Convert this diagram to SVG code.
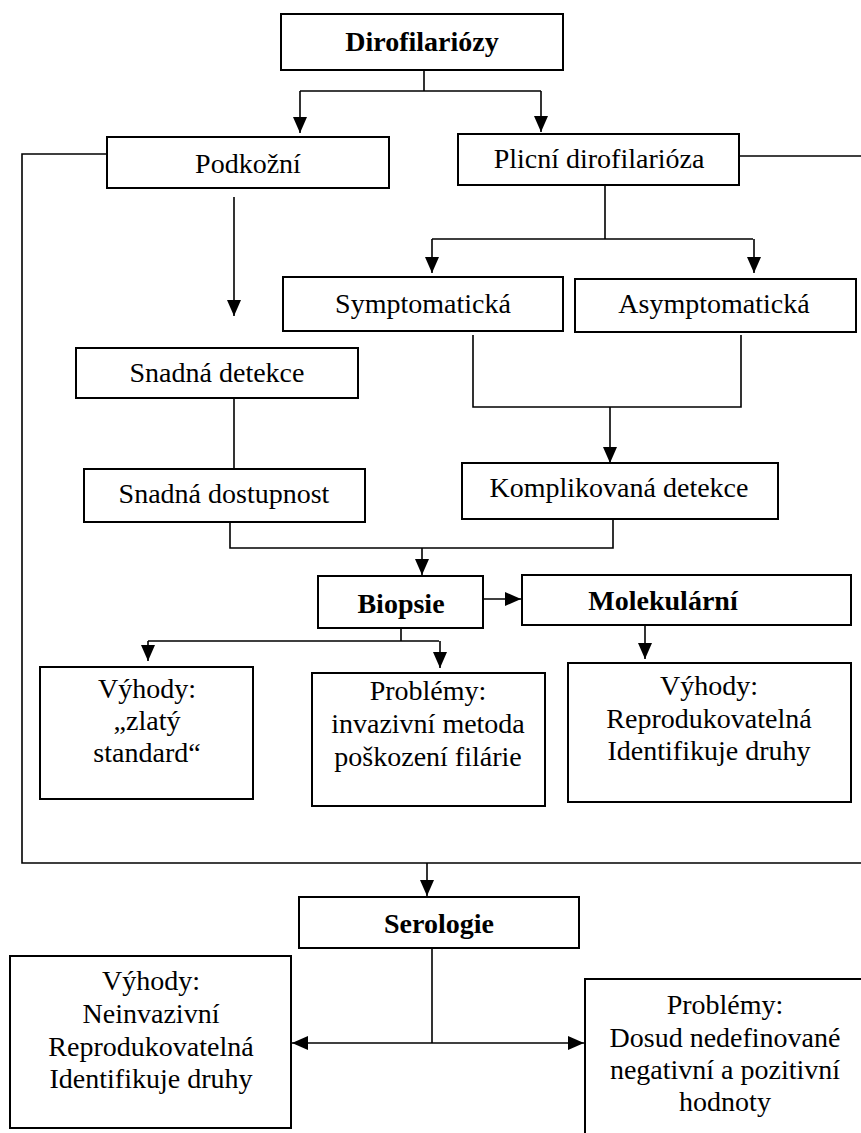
<svg xmlns="http://www.w3.org/2000/svg" width="861" height="1133" viewBox="0 0 861 1133">
<defs>
<style>
.box{fill:#fff;stroke:#000;stroke-width:2}
.ln{fill:none;stroke:#000;stroke-width:1.6}
.t{font-family:"Liberation Serif","Times New Roman",serif;font-size:28px;fill:#000;text-anchor:middle}
.b{font-weight:bold}
</style>
<marker id="ah" markerUnits="userSpaceOnUse" markerWidth="16" markerHeight="14" refX="16" refY="7" orient="auto-start-reverse">
<path d="M0,0 L16,7 L0,14 z" fill="#000"/>
</marker>
</defs>
<rect width="861" height="1133" fill="#fff"/>
<g id="connectors">
<path class="ln" d="M424,70 V91 M300,91 H541"/>
<path class="ln" d="M300,91 V133" marker-end="url(#ah)"/>
<path class="ln" d="M541,91 V132" marker-end="url(#ah)"/>
<path class="ln" d="M234,197 V316" marker-end="url(#ah)"/>
<path class="ln" d="M605,185 V239 M432,239 H753"/>
<path class="ln" d="M432,239 V273" marker-end="url(#ah)"/>
<path class="ln" d="M754,239 V273" marker-end="url(#ah)"/>
<path class="ln" d="M473,335 V407 H741 V335"/>
<path class="ln" d="M610,407 V463" marker-end="url(#ah)"/>
<path class="ln" d="M234,398 V469"/>
<path class="ln" d="M230,522 V548 H613 V519"/>
<path class="ln" d="M422,548 V575" marker-end="url(#ah)"/>
<path class="ln" d="M483,599 H521" marker-end="url(#ah)"/>
<path class="ln" d="M401,628 V641 M148,641 H439"/>
<path class="ln" d="M148,641 V661" marker-end="url(#ah)"/>
<path class="ln" d="M440,641 V668" marker-end="url(#ah)"/>
<path class="ln" d="M645,625 V659" marker-end="url(#ah)"/>
<path class="ln" d="M107,154 H22 V863 H861"/>
<path class="ln" d="M739,156 H861"/>
<path class="ln" d="M427,863 V896" marker-end="url(#ah)"/>
<path class="ln" d="M432,948 V1043"/>
<path class="ln" d="M292,1043 H584" marker-start="url(#ah)" marker-end="url(#ah)"/>
</g>
<g id="dirofilariozy"><rect class="box" x="281" y="14" width="282" height="56"/><text class="t b" x="422" y="51">Dirofilariózy</text></g>
<g id="podkozni"><rect class="box" x="107" y="137" width="282" height="51"/><text class="t" x="248" y="173">Podkožní</text></g>
<g id="plicni"><rect class="box" x="458" y="134" width="281" height="51"/><text class="t" x="599" y="168">Plicní dirofilarióza</text></g>
<g id="symptomaticka"><rect class="box" x="283" y="277" width="280" height="54"/><text class="t" x="423" y="313">Symptomatická</text></g>
<g id="asymptomaticka"><rect class="box" x="575" y="279" width="281" height="53"/><text class="t" x="714" y="313">Asymptomatická</text></g>
<g id="snadna-detekce"><rect class="box" x="76" y="348" width="282" height="50"/><text class="t" x="217" y="382">Snadná detekce</text></g>
<g id="snadna-dostupnost"><rect class="box" x="84" y="469" width="281" height="53"/><text class="t" x="224" y="503">Snadná dostupnost</text></g>
<g id="komplikovana"><rect class="box" x="462" y="463" width="316" height="56"/><text class="t" x="619" y="497">Komplikovaná detekce</text></g>
<g id="biopsie"><rect class="box" x="318" y="576" width="165" height="52"/><text class="t b" x="401" y="613">Biopsie</text></g>
<g id="molekularni"><rect class="box" x="522" y="575" width="329" height="50"/><text class="t b" x="663" y="610">Molekulární</text></g>
<g id="vyhody-biopsie"><rect class="box" x="40" y="667" width="213" height="132"/><text class="t" x="147" y="698">Výhody:</text><text class="t" x="147" y="730">„zlatý</text><text class="t" x="147" y="762">standard“</text></g>
<g id="problemy-biopsie"><rect class="box" x="312" y="673" width="233" height="133"/><text class="t" x="428" y="700">Problémy:</text><text class="t" x="428" y="733">invazivní metoda</text><text class="t" x="428" y="766">poškození filárie</text></g>
<g id="vyhody-molekularni"><rect class="box" x="568" y="663" width="283" height="139"/><text class="t" x="709" y="695">Výhody:</text><text class="t" x="709" y="728">Reprodukovatelná</text><text class="t" x="709" y="760">Identifikuje druhy</text></g>
<g id="serologie"><rect class="box" x="299" y="897" width="280" height="51"/><text class="t b" x="439" y="933">Serologie</text></g>
<g id="vyhody-serologie"><rect class="box" x="10" y="956" width="281" height="172"/><text class="t" x="151" y="990">Výhody:</text><text class="t" x="151" y="1023">Neinvazivní</text><text class="t" x="151" y="1056">Reprodukovatelná</text><text class="t" x="151" y="1088">Identifikuje druhy</text></g>
<g id="problemy-serologie"><rect class="box" x="585" y="979" width="290" height="170"/><text class="t" x="725" y="1014">Problémy:</text><text class="t" x="725" y="1047">Dosud nedefinované</text><text class="t" x="725" y="1079">negativní a pozitivní</text><text class="t" x="725" y="1111">hodnoty</text></g>
</svg>
